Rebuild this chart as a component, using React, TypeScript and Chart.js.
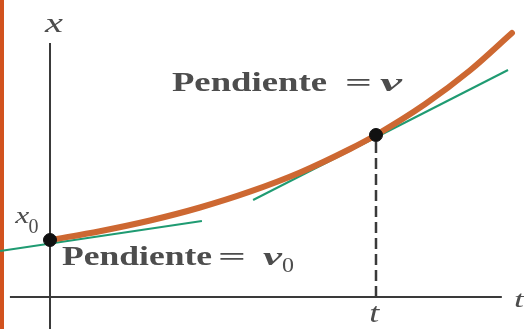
import React, { useEffect, useRef } from "react";
import { Chart, registerables } from "chart.js";

Chart.register(...registerables);

// Scale ranges (t in time units, x in position units)
const T_MIN = -1.534;
const T_MAX = 14.54;
const X_MIN = -3.2;
const X_MAX = 29.7;

// Position curve x(t)
const curveT = [0, 1.53, 3.07, 4.6, 6.13, 7.67, 9.2, 10, 11.5, 12.88, 14.17];
const curveX = [5.7, 6.58, 7.65, 8.95, 10.53, 12.45, 14.8, 16.2, 19.27, 22.65, 26.4];

// Marked points (t=0, x0) and (t, x)
const pointT = [0, 10];
const pointX = [5.7, 16.2];

// Tangent lines (green)
const tangent0T = [-1.53, 4.66];
const tangent0X = [4.6, 7.6];
const tangent1T = [6.23, 14.05];
const tangent1X = [9.7, 22.7];

// Axes
const vAxisT = [0, 0];
const vAxisX = [-3.2, 25.4];
const hAxisT = [-1.23, 13.86];
const hAxisX = [0, 0];

// Dashed drop line
const dropT = [10, 10];
const dropX = [0, 16.2];

// Text labels
const labelTexts = ["x", "x", "0", "Pendiente", "=", "v", "Pendiente", "=", "v", "0", "t", "t"];
const labelT = [-0.15, -1.07, -0.66, 3.74, 9.05, 10.12, 0.37, 5.15, 6.53, 7.12, 9.79, 14.23];
const labelX = [26.5, 7.4, 6.4, 20.6, 20.6, 20.6, 3.2, 3.2, 3.2, 2.5, -2.5, -1.0];
const labelFonts = [
  "italic 28px 'Liberation Serif'",
  "italic 24px 'Liberation Serif'",
  "20px 'Liberation Serif'",
  "bold 27px 'Liberation Serif'",
  "bold 26px 'Liberation Serif'",
  "italic bold 26px 'Liberation Serif'",
  "bold 27px 'Liberation Serif'",
  "bold 26px 'Liberation Serif'",
  "italic bold 26px 'Liberation Serif'",
  "20px 'Liberation Serif'",
  "italic 28px 'Liberation Serif'",
  "italic 24px 'Liberation Serif'",
];
// target rendered widths (px) of each label
const labelWidths = [18, 14, 10, 155, 27, 22, 150, 28, 19, 12, 10, 10];

const toPts = (ts: number[], xs: number[]) => ts.map((t, i) => ({ x: t, y: xs[i] }));

const labelPlugin = {
  id: "labelPlugin",
  afterDatasetsDraw(chart: any) {
    const ctx = chart.ctx;
    const xs = chart.scales.x;
    const ys = chart.scales.y;
    ctx.save();
    ctx.fillStyle = "#4d4d4d";
    ctx.textAlign = "left";
    ctx.textBaseline = "alphabetic";
    labelTexts.forEach((txt, i) => {
      const px = xs.getPixelForValue(labelT[i]);
      const py = ys.getPixelForValue(labelX[i]);
      ctx.save();
      ctx.font = labelFonts[i];
      const w = ctx.measureText(txt).width;
      ctx.translate(px, py);
      ctx.scale(labelWidths[i] / w, 1);
      ctx.fillText(txt, 0, 0);
      ctx.restore();
    });
    ctx.restore();
  },
};

export default function App() {
  const ref = useRef<HTMLCanvasElement | null>(null);

  useEffect(() => {
    document.body.style.margin = "0";
    if (!ref.current) return;
    const axisColor = "#3a3a3a";
    const chart = new Chart(ref.current, {
      type: "scatter",
      data: {
        datasets: [
          {
            data: toPts(pointT, pointX),
            backgroundColor: "#111111",
            borderColor: "#111111",
            pointRadius: 6.5,
            showLine: false,
            order: 0,
          },
          {
            data: toPts(curveT, curveX),
            showLine: true,
            borderColor: "#cd6832",
            borderWidth: 6,
            pointRadius: 0,
            tension: 0.4,
            cubicInterpolationMode: "monotone",
            borderCapStyle: "round",
            order: 1,
          },
          {
            data: toPts(dropT, dropX),
            showLine: true,
            borderColor: axisColor,
            borderWidth: 2.5,
            borderDash: [11, 5],
            pointRadius: 0,
            order: 2,
          },
          {
            data: toPts(tangent0T, tangent0X),
            showLine: true,
            borderColor: "#1f9b72",
            borderWidth: 2,
            pointRadius: 0,
            order: 3,
          },
          {
            data: toPts(tangent1T, tangent1X),
            showLine: true,
            borderColor: "#1f9b72",
            borderWidth: 2,
            pointRadius: 0,
            order: 3,
          },
          {
            data: toPts(vAxisT, vAxisX),
            showLine: true,
            borderColor: axisColor,
            borderWidth: 2,
            pointRadius: 0,
            order: 4,
          },
          {
            data: toPts(hAxisT, hAxisX),
            showLine: true,
            borderColor: axisColor,
            borderWidth: 2,
            pointRadius: 0,
            order: 4,
          },
        ],
      },
      options: {
        animation: false,
        responsive: false,
        maintainAspectRatio: false,
        layout: { padding: 0, autoPadding: false },
        plugins: {
          legend: { display: false },
          tooltip: { enabled: false },
        },
        scales: {
          x: { type: "linear", min: T_MIN, max: T_MAX, display: false },
          y: { type: "linear", min: X_MIN, max: X_MAX, display: false },
        },
      },
      plugins: [labelPlugin],
    });
    return () => chart.destroy();
  }, []);

  return (
    <div style={{ position: "relative", width: 524, height: 329, background: "#ffffff", overflow: "hidden" }}>
      <div style={{ position: "absolute", left: 0, top: 0, width: 4, height: 329, background: "#d2521e" }} />
      <canvas ref={ref} width={524} height={329} style={{ position: "absolute", left: 0, top: 0 }} />
    </div>
  );
}
